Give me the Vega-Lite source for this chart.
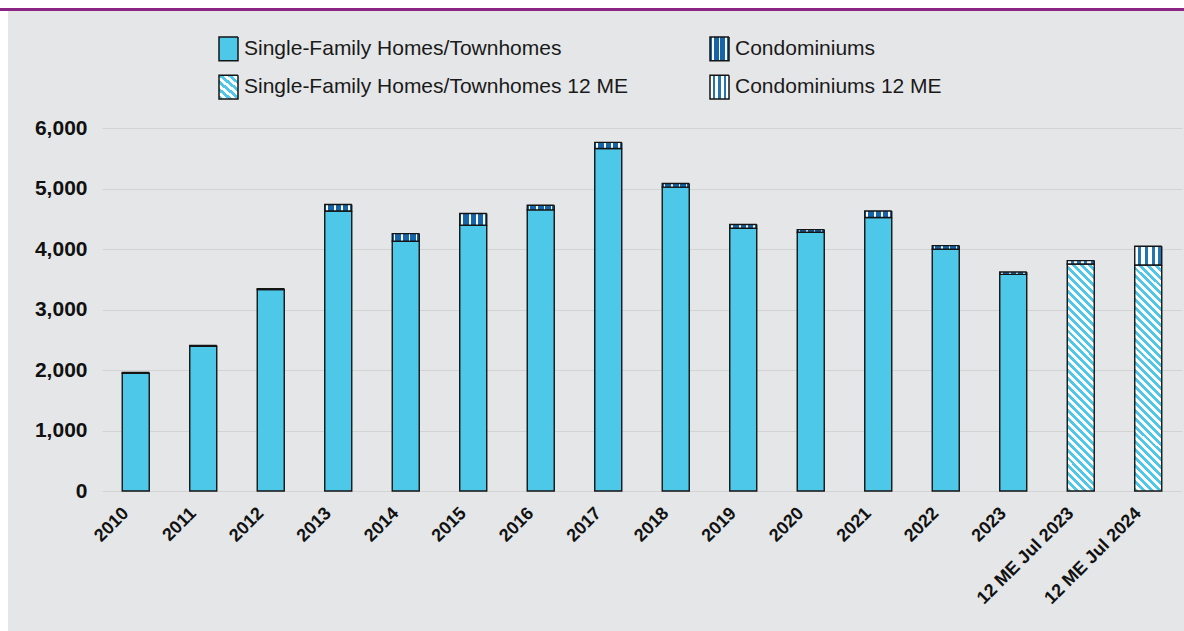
{
  "$schema": "https://vega.github.io/schema/vega-lite/v6.json",
  "background": "#e5e6e8",
  "padding": 0,
  "columns": 1,
  "align": "none",
  "spacing": 0,
  "resolve": {"scale": {"strokeDash": "independent"}, "legend": {"strokeDash": "independent"}},
  "config": {
    "view": {"stroke": null},
    "axis": {"labelFont": "Liberation Sans"}
  },
  "concat": [
    {
      "width": 1184, "height": 8,
      "view": {"fill": "#ffffff", "stroke": null},
      "data": {"values": [{}]},
      "mark": {"type": "text", "fontSize": 0, "opacity": 0},
      "encoding": {"text": {"value": ""}}
    },
    {
      "width": 1184, "height": 3,
      "view": {"fill": "#8a2583", "stroke": null},
      "data": {"values": [{}]},
      "mark": {"type": "text", "fontSize": 0, "opacity": 0},
      "encoding": {"text": {"value": ""}}
    },
    {
      "columns": 2,
      "align": "none",
      "spacing": 26,
      "resolve": {"scale": {"strokeDash": "independent"}, "legend": {"strokeDash": "independent"}},
      "concat": [
        {
          "width": 8, "height": 620,
          "view": {"fill": "#ffffff", "stroke": null},
          "data": {"values": [{}]},
          "mark": {"type": "text", "fontSize": 0, "opacity": 0},
          "encoding": {"text": {"value": ""}}
        },
        {
          "width": 1080,
          "height": 480,
          "data": {
            "values": [
              {"period": "2010", "series": "Single-Family Homes/Townhomes", "layer": 0, "value": 1945},
              {"period": "2010", "series": "Condominiums", "layer": 1, "value": 13},
              {"period": "2011", "series": "Single-Family Homes/Townhomes", "layer": 0, "value": 2390},
              {"period": "2011", "series": "Condominiums", "layer": 1, "value": 16},
              {"period": "2012", "series": "Single-Family Homes/Townhomes", "layer": 0, "value": 3330},
              {"period": "2012", "series": "Condominiums", "layer": 1, "value": 14},
              {"period": "2013", "series": "Single-Family Homes/Townhomes", "layer": 0, "value": 4629},
              {"period": "2013", "series": "Condominiums", "layer": 1, "value": 106},
              {"period": "2014", "series": "Single-Family Homes/Townhomes", "layer": 0, "value": 4127},
              {"period": "2014", "series": "Condominiums", "layer": 1, "value": 128},
              {"period": "2015", "series": "Single-Family Homes/Townhomes", "layer": 0, "value": 4392},
              {"period": "2015", "series": "Condominiums", "layer": 1, "value": 194},
              {"period": "2016", "series": "Single-Family Homes/Townhomes", "layer": 0, "value": 4646},
              {"period": "2016", "series": "Condominiums", "layer": 1, "value": 77},
              {"period": "2017", "series": "Single-Family Homes/Townhomes", "layer": 0, "value": 5662},
              {"period": "2017", "series": "Condominiums", "layer": 1, "value": 100},
              {"period": "2018", "series": "Single-Family Homes/Townhomes", "layer": 0, "value": 5022},
              {"period": "2018", "series": "Condominiums", "layer": 1, "value": 61},
              {"period": "2019", "series": "Single-Family Homes/Townhomes", "layer": 0, "value": 4343},
              {"period": "2019", "series": "Condominiums", "layer": 1, "value": 61},
              {"period": "2020", "series": "Single-Family Homes/Townhomes", "layer": 0, "value": 4276},
              {"period": "2020", "series": "Condominiums", "layer": 1, "value": 45},
              {"period": "2021", "series": "Single-Family Homes/Townhomes", "layer": 0, "value": 4520},
              {"period": "2021", "series": "Condominiums", "layer": 1, "value": 109},
              {"period": "2022", "series": "Single-Family Homes/Townhomes", "layer": 0, "value": 3995},
              {"period": "2022", "series": "Condominiums", "layer": 1, "value": 61},
              {"period": "2023", "series": "Single-Family Homes/Townhomes", "layer": 0, "value": 3581},
              {"period": "2023", "series": "Condominiums", "layer": 1, "value": 38},
              {"period": "12 ME Jul 2023", "series": "Single-Family Homes/Townhomes 12 ME", "layer": 0, "value": 3752},
              {"period": "12 ME Jul 2023", "series": "Condominiums 12 ME", "layer": 1, "value": 56},
              {"period": "12 ME Jul 2024", "series": "Single-Family Homes/Townhomes 12 ME", "layer": 0, "value": 3735},
              {"period": "12 ME Jul 2024", "series": "Condominiums 12 ME", "layer": 1, "value": 310}
            ]
          },
          "mark": {
            "type": "bar", "stroke": "#141414", "strokeWidth": 1.4,
            "fill": {"expr": "datum.series === 'Condominiums' ? {gradient:'linear',x1:0,y1:0,x2:1,y2:0,stops:[{offset:0,color:'#1565a8'},{offset:0.06,color:'#1565a8'},{offset:0.06,color:'#ffffff'},{offset:0.12,color:'#ffffff'},{offset:0.12,color:'#1565a8'},{offset:0.34,color:'#1565a8'},{offset:0.34,color:'#ffffff'},{offset:0.4,color:'#ffffff'},{offset:0.4,color:'#1565a8'},{offset:0.61,color:'#1565a8'},{offset:0.61,color:'#ffffff'},{offset:0.67,color:'#ffffff'},{offset:0.67,color:'#1565a8'},{offset:0.87,color:'#1565a8'},{offset:0.87,color:'#ffffff'},{offset:0.93,color:'#ffffff'},{offset:0.93,color:'#1565a8'},{offset:1,color:'#1565a8'}]} : datum.series === 'Single-Family Homes/Townhomes 12 ME' ? {gradient:'linear',x1:0,y1:1,x2:0.1314,y2:-0.1035,stops:[{offset:0,color:'#4dc8e9'},{offset:0.015625,color:'#4dc8e9'},{offset:0.015625,color:'#ffffff'},{offset:0.03125,color:'#ffffff'},{offset:0.03125,color:'#4dc8e9'},{offset:0.046875,color:'#4dc8e9'},{offset:0.046875,color:'#ffffff'},{offset:0.0625,color:'#ffffff'},{offset:0.0625,color:'#4dc8e9'},{offset:0.078125,color:'#4dc8e9'},{offset:0.078125,color:'#ffffff'},{offset:0.09375,color:'#ffffff'},{offset:0.09375,color:'#4dc8e9'},{offset:0.109375,color:'#4dc8e9'},{offset:0.109375,color:'#ffffff'},{offset:0.125,color:'#ffffff'},{offset:0.125,color:'#4dc8e9'},{offset:0.140625,color:'#4dc8e9'},{offset:0.140625,color:'#ffffff'},{offset:0.15625,color:'#ffffff'},{offset:0.15625,color:'#4dc8e9'},{offset:0.171875,color:'#4dc8e9'},{offset:0.171875,color:'#ffffff'},{offset:0.1875,color:'#ffffff'},{offset:0.1875,color:'#4dc8e9'},{offset:0.203125,color:'#4dc8e9'},{offset:0.203125,color:'#ffffff'},{offset:0.21875,color:'#ffffff'},{offset:0.21875,color:'#4dc8e9'},{offset:0.234375,color:'#4dc8e9'},{offset:0.234375,color:'#ffffff'},{offset:0.25,color:'#ffffff'},{offset:0.25,color:'#4dc8e9'},{offset:0.265625,color:'#4dc8e9'},{offset:0.265625,color:'#ffffff'},{offset:0.28125,color:'#ffffff'},{offset:0.28125,color:'#4dc8e9'},{offset:0.296875,color:'#4dc8e9'},{offset:0.296875,color:'#ffffff'},{offset:0.3125,color:'#ffffff'},{offset:0.3125,color:'#4dc8e9'},{offset:0.328125,color:'#4dc8e9'},{offset:0.328125,color:'#ffffff'},{offset:0.34375,color:'#ffffff'},{offset:0.34375,color:'#4dc8e9'},{offset:0.359375,color:'#4dc8e9'},{offset:0.359375,color:'#ffffff'},{offset:0.375,color:'#ffffff'},{offset:0.375,color:'#4dc8e9'},{offset:0.390625,color:'#4dc8e9'},{offset:0.390625,color:'#ffffff'},{offset:0.40625,color:'#ffffff'},{offset:0.40625,color:'#4dc8e9'},{offset:0.421875,color:'#4dc8e9'},{offset:0.421875,color:'#ffffff'},{offset:0.4375,color:'#ffffff'},{offset:0.4375,color:'#4dc8e9'},{offset:0.453125,color:'#4dc8e9'},{offset:0.453125,color:'#ffffff'},{offset:0.46875,color:'#ffffff'},{offset:0.46875,color:'#4dc8e9'},{offset:0.484375,color:'#4dc8e9'},{offset:0.484375,color:'#ffffff'},{offset:0.5,color:'#ffffff'},{offset:0.5,color:'#4dc8e9'},{offset:0.515625,color:'#4dc8e9'},{offset:0.515625,color:'#ffffff'},{offset:0.53125,color:'#ffffff'},{offset:0.53125,color:'#4dc8e9'},{offset:0.546875,color:'#4dc8e9'},{offset:0.546875,color:'#ffffff'},{offset:0.5625,color:'#ffffff'},{offset:0.5625,color:'#4dc8e9'},{offset:0.578125,color:'#4dc8e9'},{offset:0.578125,color:'#ffffff'},{offset:0.59375,color:'#ffffff'},{offset:0.59375,color:'#4dc8e9'},{offset:0.609375,color:'#4dc8e9'},{offset:0.609375,color:'#ffffff'},{offset:0.625,color:'#ffffff'},{offset:0.625,color:'#4dc8e9'},{offset:0.640625,color:'#4dc8e9'},{offset:0.640625,color:'#ffffff'},{offset:0.65625,color:'#ffffff'},{offset:0.65625,color:'#4dc8e9'},{offset:0.671875,color:'#4dc8e9'},{offset:0.671875,color:'#ffffff'},{offset:0.6875,color:'#ffffff'},{offset:0.6875,color:'#4dc8e9'},{offset:0.703125,color:'#4dc8e9'},{offset:0.703125,color:'#ffffff'},{offset:0.71875,color:'#ffffff'},{offset:0.71875,color:'#4dc8e9'},{offset:0.734375,color:'#4dc8e9'},{offset:0.734375,color:'#ffffff'},{offset:0.75,color:'#ffffff'},{offset:0.75,color:'#4dc8e9'},{offset:0.765625,color:'#4dc8e9'},{offset:0.765625,color:'#ffffff'},{offset:0.78125,color:'#ffffff'},{offset:0.78125,color:'#4dc8e9'},{offset:0.796875,color:'#4dc8e9'},{offset:0.796875,color:'#ffffff'},{offset:0.8125,color:'#ffffff'},{offset:0.8125,color:'#4dc8e9'},{offset:0.828125,color:'#4dc8e9'},{offset:0.828125,color:'#ffffff'},{offset:0.84375,color:'#ffffff'},{offset:0.84375,color:'#4dc8e9'},{offset:0.859375,color:'#4dc8e9'},{offset:0.859375,color:'#ffffff'},{offset:0.875,color:'#ffffff'},{offset:0.875,color:'#4dc8e9'},{offset:0.890625,color:'#4dc8e9'},{offset:0.890625,color:'#ffffff'},{offset:0.90625,color:'#ffffff'},{offset:0.90625,color:'#4dc8e9'},{offset:0.921875,color:'#4dc8e9'},{offset:0.921875,color:'#ffffff'},{offset:0.9375,color:'#ffffff'},{offset:0.9375,color:'#4dc8e9'},{offset:0.953125,color:'#4dc8e9'},{offset:0.953125,color:'#ffffff'},{offset:0.96875,color:'#ffffff'},{offset:0.96875,color:'#4dc8e9'},{offset:0.984375,color:'#4dc8e9'},{offset:0.984375,color:'#ffffff'},{offset:1,color:'#ffffff'}]} : datum.series === 'Condominiums 12 ME' ? {gradient:'linear',x1:0,y1:0,x2:1,y2:0,stops:[{offset:0,color:'#ffffff'},{offset:0.125,color:'#ffffff'},{offset:0.125,color:'#2474b0'},{offset:0.25,color:'#2474b0'},{offset:0.25,color:'#ffffff'},{offset:0.375,color:'#ffffff'},{offset:0.375,color:'#2474b0'},{offset:0.5,color:'#2474b0'},{offset:0.5,color:'#ffffff'},{offset:0.625,color:'#ffffff'},{offset:0.625,color:'#2474b0'},{offset:0.75,color:'#2474b0'},{offset:0.75,color:'#ffffff'},{offset:0.875,color:'#ffffff'},{offset:0.875,color:'#2474b0'},{offset:1,color:'#2474b0'}]} : datum.value === 'Condominiums' ? {gradient:'linear',x1:0,y1:0,x2:1,y2:0,stops:[{offset:0,color:'#1565a8'},{offset:0.12,color:'#1565a8'},{offset:0.12,color:'#ffffff'},{offset:0.22,color:'#ffffff'},{offset:0.22,color:'#1565a8'},{offset:0.45,color:'#1565a8'},{offset:0.45,color:'#ffffff'},{offset:0.55,color:'#ffffff'},{offset:0.55,color:'#1565a8'},{offset:0.78,color:'#1565a8'},{offset:0.78,color:'#ffffff'},{offset:0.88,color:'#ffffff'},{offset:0.88,color:'#1565a8'},{offset:1,color:'#1565a8'}]} : datum.value === 'Single-Family Homes/Townhomes 12 ME' ? {gradient:'linear',x1:0,y1:1,x2:0.73,y2:-0.1,stops:[{offset:0,color:'#4dc8e9'},{offset:0.1,color:'#4dc8e9'},{offset:0.1,color:'#ffffff'},{offset:0.2,color:'#ffffff'},{offset:0.2,color:'#4dc8e9'},{offset:0.3,color:'#4dc8e9'},{offset:0.3,color:'#ffffff'},{offset:0.4,color:'#ffffff'},{offset:0.4,color:'#4dc8e9'},{offset:0.5,color:'#4dc8e9'},{offset:0.5,color:'#ffffff'},{offset:0.6,color:'#ffffff'},{offset:0.6,color:'#4dc8e9'},{offset:0.7,color:'#4dc8e9'},{offset:0.7,color:'#ffffff'},{offset:0.8,color:'#ffffff'},{offset:0.8,color:'#4dc8e9'},{offset:0.9,color:'#4dc8e9'},{offset:0.9,color:'#ffffff'},{offset:1,color:'#ffffff'}]} : datum.value === 'Condominiums 12 ME' ? {gradient:'linear',x1:0,y1:0,x2:1,y2:0,stops:[{offset:0,color:'#ffffff'},{offset:0.143,color:'#ffffff'},{offset:0.143,color:'#2474b0'},{offset:0.286,color:'#2474b0'},{offset:0.286,color:'#ffffff'},{offset:0.429,color:'#ffffff'},{offset:0.429,color:'#2474b0'},{offset:0.571,color:'#2474b0'},{offset:0.571,color:'#ffffff'},{offset:0.714,color:'#ffffff'},{offset:0.714,color:'#2474b0'},{offset:0.857,color:'#2474b0'},{offset:0.857,color:'#ffffff'},{offset:1,color:'#ffffff'}]} : '#4dc8e9'"}
          },
          "encoding": {
            "x": {
              "field": "period", "type": "ordinal", "sort": null,
              "scale": {"paddingInner": 0.6, "paddingOuter": 0.3},
              "axis": {
                "title": null, "labelAngle": -45, "labelFontSize": 18, "labelFontWeight": "bold",
                "labelColor": "#111111", "ticks": false, "domain": false, "labelPadding": 13,
                "labelOffset": -16, "labelAlign": "right", "labelBaseline": "top",
                "labelOverlap": false, "labelBound": false
              }
            },
            "y": {
              "field": "value", "type": "quantitative", "stack": "zero",
              "scale": {"domain": [0, 7934], "nice": false, "zero": true},
              "axis": {
                "title": null, "values": [0, 1000, 2000, 3000, 4000, 5000, 6000], "format": ",d",
                "labelFontSize": 21, "labelFontWeight": "bold", "labelColor": "#111111",
                "ticks": false, "domain": false, "labelPadding": 15,
                "gridColor": "#d3d3d3", "gridWidth": 1.2
              }
            },
            "order": {"field": "layer", "type": "quantitative"},
            "strokeDash": {
              "field": "series", "type": "nominal",
              "scale": {
                "domain": ["Single-Family Homes/Townhomes", "Condominiums", "Single-Family Homes/Townhomes 12 ME", "Condominiums 12 ME"],
                "range": [[1, 0], [1, 0], [1, 0], [1, 0]]
              },
              "legend": {
                "title": null, "orient": "none", "direction": "horizontal", "legendX": 89, "legendY": 0, "padding": 27,
                "columns": 2, "columnPadding": 79, "rowPadding": 7.5,
                "symbolType": "M-1,-1.25L1,-1.25L1,1.25L-1,1.25Z", "symbolSize": 361,
                "labelFont": "Liberation Sans", "labelFontSize": 21, "labelColor": "#1a1a1a",
                "labelOffset": 5, "labelLimit": 600,
                "encode": {
                  "symbols": {
                    "stroke": {"value": "#333333"},
                    "strokeWidth": {"value": 1}
                  }
                }
              }
            }
          }
        }
      ]
    }
  ]
}
